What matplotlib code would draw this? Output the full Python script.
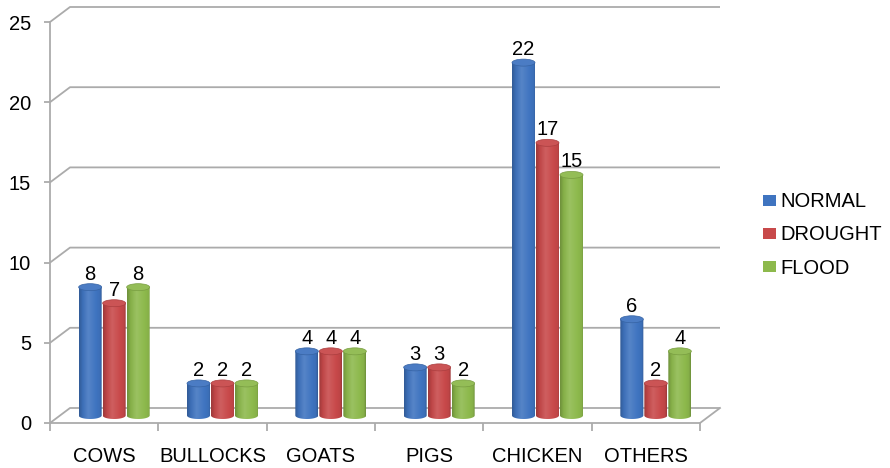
import numpy as np
import matplotlib
matplotlib.use("Agg")
import matplotlib.pyplot as plt
import matplotlib.colors as mcolors
from matplotlib.patches import Ellipse, Patch, PathPatch
from matplotlib.path import Path

# ---- data ----
categories = ["COWS", "BULLOCKS", "GOATS", "PIGS", "CHICKEN", "OTHERS"]
series_names = ["NORMAL", "DROUGHT", "FLOOD"]
normal = [8, 2, 4, 3, 22, 6]
drought = [7, 2, 4, 3, 17, 2]
flood = [8, 2, 4, 2, 15, 4]
yticks = [0, 5, 10, 15, 20, 25]

series_values = [normal, drought, flood]
series_colors = ["#3F74C0", "#C8494A", "#8DB94C"]

plt.rcParams['font.family'] = ['Liberation Sans', 'DejaVu Sans']
FS = 14.5

W, H = 890, 468
fig = plt.figure(figsize=(W / 100, H / 100), dpi=100)
fig.patch.set_facecolor("white")

# front plane of the 3-D box, in pixels
L, R, B, T = 50, 700, 423, 22
ax = fig.add_axes([L / W, 1 - B / H, (R - L) / W, (B - T) / H])
ncat = len(categories)
ymax = yticks[-1]
ax.set_xlim(0, ncat)
ax.set_ylim(0, ymax)

px_x = ncat / (R - L)
px_y = ymax / (B - T)
depth_dx = 20 * px_x          # depth of the box, horizontal shift
depth_dy = 15 * px_y          # depth of the box, vertical shift

grid_col = "#ABABAB"
grid_lw = 1.3

# back-wall gridlines with the diagonal on the left wall
for v in yticks:
    ax.plot([0, depth_dx, ncat + depth_dx], [v, v + depth_dy, v + depth_dy],
            color=grid_col, lw=grid_lw, clip_on=False, zorder=1,
            solid_capstyle="butt")
# right floor edge
ax.plot([ncat, ncat + depth_dx], [0, depth_dy], color=grid_col, lw=grid_lw,
        clip_on=False, zorder=1)

# axes styling
for s in ["top", "right"]:
    ax.spines[s].set_visible(False)
for s in ["left", "bottom"]:
    ax.spines[s].set_color(grid_col)
    ax.spines[s].set_linewidth(grid_lw)
    ax.spines[s].set_zorder(1)

ax.set_yticks(yticks)
ax.set_yticklabels([str(v) for v in yticks])
ax.tick_params(axis="y", direction="out", length=4.5, width=grid_lw,
               color=grid_col, pad=9, labelsize=FS, labelcolor="black")

ax.set_xticks(np.arange(ncat + 1))
ax.set_xticklabels([])
ax.set_xticks(np.arange(ncat) + 0.5, minor=True)
ax.set_xticklabels(categories, minor=True)
ax.tick_params(axis="x", which="major", direction="out", length=6,
               width=grid_lw, color=grid_col)
ax.tick_params(axis="x", which="minor", length=0, pad=17, labelsize=FS,
               labelcolor="black")

# ---- cylinders ----
spacing = 24 * px_x            # centre-to-centre distance within a group
radius = 11.5 * px_x           # half width of a cylinder
cap_h = 3.5 * px_y             # half height of the elliptical cap
base = depth_dy / 2            # cylinders stand in the middle of the floor


def shade_cmap(color):
    c = np.array(mcolors.to_rgb(color))
    dark = c * 0.78
    mid = c * 0.95
    light = np.clip(c + (1 - c) * 0.12, 0, 1)
    return mcolors.LinearSegmentedColormap.from_list(
        "cyl", [(0.0, dark), (0.15, mid), (0.4, light),
                (0.75, c), (0.92, mid), (1.0, dark)])


tt = np.linspace(np.pi, 2 * np.pi, 40)
grad = np.linspace(0, 1, 64)[None, :]

for j, (vals, col) in enumerate(zip(series_values, series_colors)):
    cmap = shade_cmap(col)
    rgb = np.array(mcolors.to_rgb(col))
    cap_col = np.clip(rgb + (1 - rgb) * 0.06, 0, 1)
    edge_col = rgb * 0.85
    for i, v in enumerate(vals):
        xc = i + 0.5 + (j - 1) * spacing + depth_dx / 2
        top = v + base
        xs = list(xc + radius * np.cos(tt))
        ys = list(base + cap_h * np.sin(tt))
        xs += [xc + radius, xc - radius, xc - radius]
        ys += [top, top, base]
        body = PathPatch(Path(list(zip(xs, ys))), facecolor="none",
                         edgecolor="none", transform=ax.transData)
        ax.add_patch(body)
        im = ax.imshow(grad, cmap=cmap, aspect="auto",
                       extent=[xc - radius, xc + radius, base - cap_h, top],
                       zorder=2, interpolation="bilinear")
        im.set_clip_path(body)
        ax.add_patch(Ellipse((xc, top), 2 * radius, 2 * cap_h,
                             facecolor=cap_col, edgecolor=edge_col, lw=0.5,
                             zorder=3))
        ax.annotate(str(v), (xc, top + cap_h), xytext=(0, 3),
                    textcoords="offset points", ha="center", va="baseline",
                    fontsize=FS, color="black", zorder=4)

ax.set_xlim(0, ncat)
ax.set_ylim(0, ymax)

# ---- legend ----
handles = [Patch(facecolor=c, edgecolor="none") for c in series_colors]
fig.legend(handles, series_names, loc="center left",
           bbox_to_anchor=(763 / W, 1 - 235 / H), frameon=False,
           fontsize=FS, handlelength=0.65, handleheight=0.5,
           handletextpad=0.22, labelspacing=0.7, borderpad=0,
           borderaxespad=0)

fig.savefig("out.png", dpi=100, facecolor="white")
